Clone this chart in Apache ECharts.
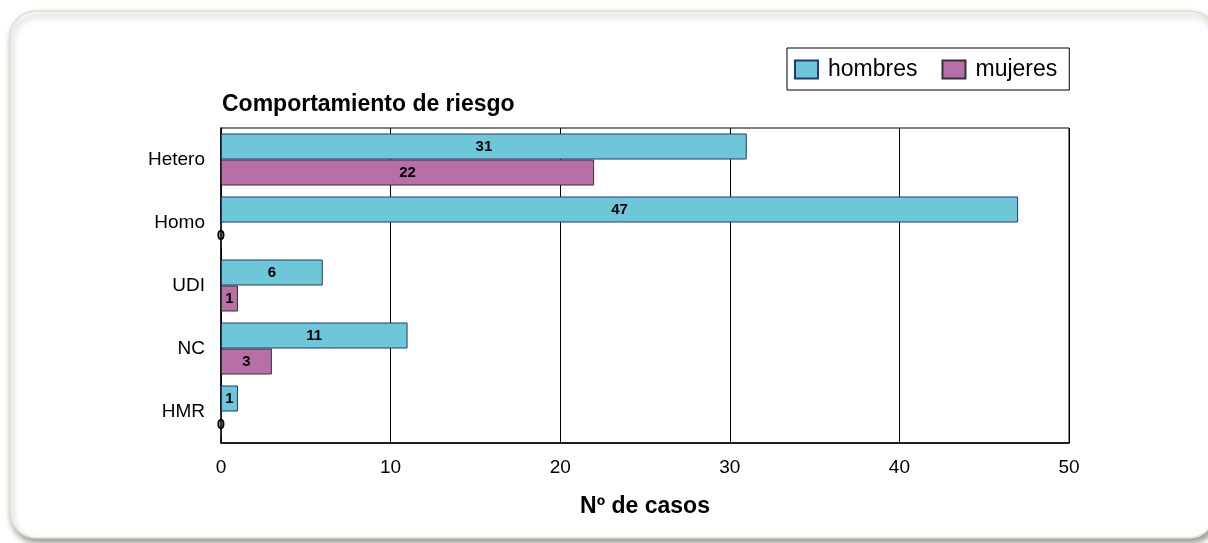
<!DOCTYPE html>
<html><head><meta charset="utf-8">
<script src="https://cdn.jsdelivr.net/npm/echarts@6/dist/echarts.min.js"></script>
<style>html,body{margin:0;padding:0;background:#fff}#c{width:1208px;height:543px}</style>
</head><body><div id="c"></div>
<script>
const categories = ['Hetero', 'Homo', 'UDI', 'NC', 'HMR'];
const hombres = [31, 47, 6, 11, 1];
const mujeres = [22, 0, 1, 3, 0];
const xTicks = [0, 10, 20, 30, 40, 50];

const chart = echarts.init(document.getElementById('c'));
const font = 'Liberation Sans, Arial, sans-serif';
const lbl = {show: true, position: 'inside', color: '#000', fontWeight: 'bold', fontSize: 15, fontFamily: font};
chart.setOption({
  animation: false,
  backgroundColor: '#fff',
  graphic: [{
    type: 'rect', z: -10, silent: true,
    shape: {x: 10, y: 11, width: 1205, height: 527, r: 26},
    style: {fill: '#fff', stroke: '#d3e6c4', lineWidth: 1.5, shadowColor: 'rgba(0,0,0,0.4)', shadowBlur: 6, shadowOffsetX: 2, shadowOffsetY: 4}
  }, {
    type: 'text', left: 222, top: 93,
    style: {text: 'Comportamiento de riesgo', font: 'bold 23px ' + font, fill: '#000'}
  }],
  legend: {
    left: 787, top: 48,
    padding: [10, 12, 9, 7],
    borderColor: '#000', borderWidth: 1,
    itemWidth: 23, itemHeight: 18, itemGap: 24,
    icon: 'rect',
    textStyle: {fontSize: 23, fontFamily: font, color: '#000', lineHeight: 19, padding: [0, 0, 0, 5]},
    data: ['hombres', 'mujeres']
  },
  grid: {left: 221, right: 139, top: 128, bottom: 100, show: true, borderColor: '#000', borderWidth: 1, backgroundColor: '#fff'},
  xAxis: {
    type: 'value', min: xTicks[0], max: xTicks[xTicks.length - 1], interval: 10,
    name: 'Nº de casos', nameLocation: 'middle', nameGap: 52,
    nameTextStyle: {fontSize: 23, fontWeight: 'bold', fontFamily: font, color: '#000'},
    axisLine: {show: true, lineStyle: {color: '#000', width: 1.5}},
    axisTick: {show: false},
    axisLabel: {fontSize: 19, fontFamily: font, color: '#000', margin: 15},
    splitLine: {show: true, lineStyle: {color: '#000', width: 1}}
  },
  yAxis: {
    type: 'category', data: categories, inverse: true,
    axisLine: {show: true, lineStyle: {color: '#000', width: 1.5}},
    axisTick: {show: false},
    axisLabel: {fontSize: 19, fontFamily: font, color: '#000', margin: 16},
    splitLine: {show: false}
  },
  series: [{
    name: 'hombres', type: 'bar', data: hombres, barWidth: 26, barGap: 0,
    itemStyle: {color: '#6ec6d9', borderColor: '#1f3a7a', borderWidth: 1},
    label: lbl
  }, {
    name: 'mujeres', type: 'bar', data: mujeres, barWidth: 26, barGap: 0,
    itemStyle: {color: '#b86fa8', borderColor: '#333', borderWidth: 1},
    label: lbl
  }]
});
</script></body></html>
